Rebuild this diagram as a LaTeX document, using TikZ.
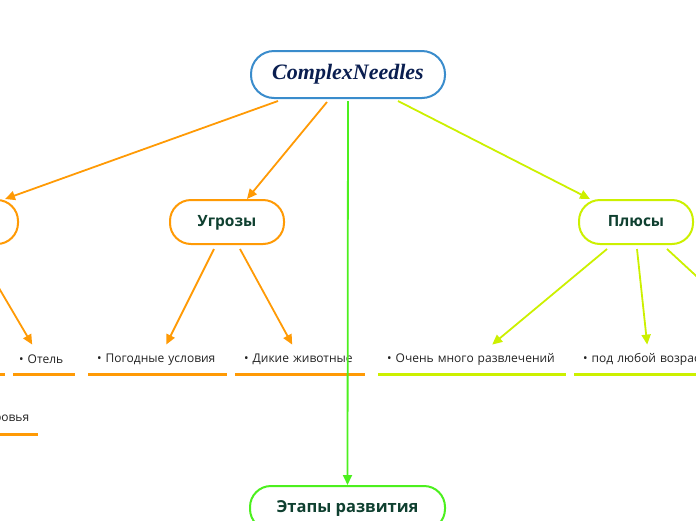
\documentclass[tikz,border=0pt]{standalone}
\usepackage{fontspec}
\setmainfont{Open Sans}
\newfontfamily\rootfont{Liberation Serif}
\usetikzlibrary{arrows.meta}
\definecolor{mmorange}{HTML}{FF9A05}
\definecolor{mmlime}{HTML}{CCF000}
\definecolor{mmgreen}{HTML}{4CF01E}
\definecolor{mmblue}{HTML}{3A8CCC}
\definecolor{titlegreen}{HTML}{0F4030}
\definecolor{rootnavy}{HTML}{0A1E50}
\definecolor{leafgray}{HTML}{222222}

\begin{document}
\begin{tikzpicture}[x=1pt, y=-1pt,
  topic/.style={draw, line width=2pt, rounded corners=21pt, minimum width=114pt, minimum height=44pt,
    text height=8pt, text depth=0pt, fill=white, font=\bfseries\fontsize{15.5}{18}\selectfont, text=titlegreen},
  leaf/.style={anchor=south west, text width=#1, inner xsep=9pt, inner ysep=0pt, minimum height=29pt,
    font=\fontsize{12}{14}\selectfont, text=leafgray},
  link/.style={line width=1.8pt, -{Triangle[length=10pt,width=9pt]}},
  ul/.style={line width=3pt}
]
\useasboundingbox (0,0) rectangle (696,520);
\clip (0,0) rectangle (696,520);

\node[topic, draw=mmblue, minimum width=194pt, minimum height=47pt, rounded corners=23pt, text height=10pt,
  font=\rootfont\bfseries\itshape\fontsize{22}{24}\selectfont, text=rootnavy] (root) at (348,74.5) {ComplexNeedles};
\node[topic, draw=mmorange] (lbox) at (-39,222) {};
\node[topic, draw=mmorange] (ugr) at (227,222) {Угрозы};
\node[topic, draw=mmlime] (plus) at (636,222) {Плюсы};
\node[topic, draw=mmgreen, minimum width=195pt, font=\bfseries\fontsize{16.5}{18}\selectfont] (etap) at (347.5,508) {Этапы развития};

\node[leaf=50pt] (lprev) at (-63,374) {};
\node[leaf=50pt, inner xsep=6pt] (otel) at (13,374) {\mbox{• Отель}};
\node[leaf=121pt] (pog) at (88,374) {• Погодные условия};
\node[leaf=112pt] (dik) at (235,374) {• Дикие животные};
\node[leaf=100pt, align=right] (zdor) at (-80,434) {• здоровья};
\node[leaf=170pt] (ochen) at (378,374) {• Очень много развлечений};
\node[leaf=132pt] (pod) at (574,374) {• под любой возраст};
\coordinate (pnext) at (771,345);

\foreach \n in {lprev, otel, pog, dik, zdor}
  \draw[ul, mmorange] (\n.south west) -- (\n.south east);
\foreach \n in {ochen, pod}
  \draw[ul, mmlime] (\n.south west) -- (\n.south east);

\draw[link, mmorange] ([xshift=-70pt,yshift=-2pt]root.south) -- ([xshift=44pt]lbox.north);
\draw[link, mmorange] ([xshift=-21pt,yshift=-3pt]root.south) -- ([xshift=20pt]ugr.north);
\draw[link, mmlime] ([xshift=50pt,yshift=-2pt]root.south) -- ([xshift=-46pt]plus.north);
\draw[link, mmgreen] ([yshift=-2pt]root.south) -- (etap.north);

\draw[link, mmorange] ([xshift=15pt,yshift=-4pt]lbox.south) -- ([xshift=-12pt]otel.north);
\draw[link, mmorange] ([xshift=-13pt,yshift=-4pt]ugr.south) -- ([xshift=8.5pt]pog.north);
\draw[link, mmorange] ([xshift=13pt,yshift=-4pt]ugr.south) -- ([xshift=-8pt]dik.north);
\draw[link, mmlime] ([xshift=-29pt,yshift=-4pt]plus.south) -- ([xshift=20pt]ochen.north);
\draw[link, mmlime] ([xshift=1pt,yshift=-4pt]plus.south) -- ([xshift=-2pt]pod.north);
\draw[link, mmlime] ([xshift=31pt,yshift=-4pt]plus.south) -- (pnext);
\end{tikzpicture}
\end{document}
